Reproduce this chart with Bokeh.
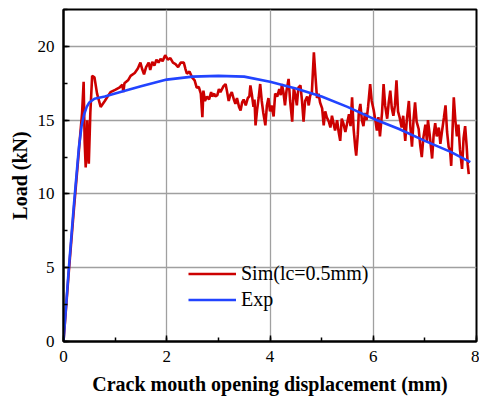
from bokeh.plotting import figure
from bokeh.models import Range1d, SingleIntervalTicker, Legend, LegendItem
from bokeh.embed import file_html
from bokeh.resources import INLINE

# Simulation (lc=0.5mm) : CMOD (mm) vs Load (kN)
sim_x = [0, 0.1, 0.2, 0.3, 0.36, 0.39, 0.41, 0.43, 0.445, 0.46, 0.475, 0.49, 0.52, 0.555, 0.6,
         0.65, 0.72, 0.8, 0.91, 1.0, 1.08, 1.14, 1.16, 1.18, 1.25, 1.30, 1.38, 1.44, 1.49, 1.52,
         1.56, 1.60, 1.65, 1.68, 1.72, 1.76, 1.80, 1.84, 1.88, 1.92, 1.97, 2.02, 2.07, 2.12, 2.17,
         2.22, 2.27, 2.33, 2.36, 2.39, 2.44, 2.49, 2.54, 2.58, 2.62, 2.66, 2.69, 2.71, 2.74, 2.78,
         2.82, 2.86, 2.88, 2.92, 2.94, 2.98, 3.01, 3.04, 3.10, 3.14, 3.17, 3.20, 3.23, 3.26, 3.30,
         3.33, 3.36, 3.40, 3.43, 3.46, 3.49, 3.53, 3.57, 3.60, 3.62, 3.65, 3.68, 3.70, 3.72, 3.75,
         3.78, 3.81, 3.84, 3.87, 3.91, 3.94, 3.97, 4.00, 4.03, 4.07, 4.10, 4.14, 4.18, 4.21, 4.23,
         4.26, 4.29, 4.32, 4.36, 4.39, 4.43, 4.46, 4.49, 4.52, 4.55, 4.59, 4.62, 4.65, 4.68, 4.72,
         4.75, 4.78, 4.81, 4.85, 4.88, 4.91, 4.94, 4.97, 5.01, 5.04, 5.07, 5.10, 5.14, 5.17, 5.20,
         5.23, 5.26, 5.30, 5.33, 5.36, 5.39, 5.42, 5.46, 5.50, 5.53, 5.56, 5.59, 5.62, 5.65, 5.67,
         5.70, 5.72, 5.75, 5.78, 5.81, 5.84, 5.87, 5.90, 5.94, 5.97, 6.01, 6.04, 6.07, 6.10, 6.13,
         6.17, 6.20, 6.23, 6.27, 6.30, 6.33, 6.36, 6.39, 6.42, 6.45, 6.48, 6.51, 6.55, 6.58, 6.62,
         6.65, 6.69, 6.72, 6.75, 6.78, 6.81, 6.84, 6.88, 6.91, 6.94, 6.97, 7.01, 7.04, 7.06, 7.10,
         7.14, 7.17, 7.20, 7.23, 7.27, 7.30, 7.33, 7.37, 7.40, 7.43, 7.46, 7.49, 7.51, 7.53, 7.56,
         7.59, 7.62, 7.65, 7.68, 7.72, 7.75, 7.78, 7.81, 7.83, 7.85]
sim_y = [0, 4.6, 8.9, 13.0, 15.5, 17.6, 13.5, 11.8, 13.0, 15.0, 12.8, 12.05, 15.5, 18.0, 17.9,
         16.8, 15.9, 16.3, 16.9, 17.05, 17.2, 17.4, 16.9, 17.5, 17.7, 18.0, 18.2, 18.5, 18.9, 18.5,
         18.1, 18.6, 18.9, 18.4, 18.95, 18.7, 19.1, 18.9, 19.15, 19.0, 19.4, 19.1, 19.2, 18.9, 18.8,
         18.6, 18.9, 18.9, 18.5, 18.15, 18.3, 17.9, 17.7, 17.2, 17.25, 16.8, 15.2, 17.0, 16.3, 16.6,
         16.4, 16.9, 16.6, 16.8, 16.6, 16.7, 17.1, 16.9, 17.3, 17.45, 16.9, 16.3, 16.7, 16.9, 16.4,
         16.1, 16.5, 15.9, 15.66, 16.2, 16.4, 16.0, 16.5, 16.6, 17.35, 16.7, 15.9, 16.4, 14.65, 15.7,
         16.5, 17.45, 16.3, 15.5, 14.65, 16.0, 16.5, 15.6, 16.0, 15.25, 16.8, 16.6, 17.1, 16.7, 17.45,
         16.9, 16.0, 17.0, 17.8, 16.3, 14.9, 17.2, 16.7, 16.0, 17.2, 17.35, 16.3, 14.9, 16.3, 16.6,
         16.0, 16.7, 16.8, 19.6, 18.0, 16.5, 16.8, 16.2, 15.8, 14.65, 15.6, 15.2, 14.9, 14.5, 15.3,
         14.8, 14.3, 15.0, 14.2, 13.6, 15.1, 14.8, 14.2, 14.9, 15.4, 14.6, 16.55, 14.4, 13.2, 12.6,
         14.0, 15.5, 16.1, 15.0, 14.6, 15.5, 15.0, 15.9, 17.45, 16.3, 15.66, 15.0, 14.3, 15.2, 13.9,
         15.5, 17.45, 16.0, 15.1, 16.2, 17.0, 15.8, 15.3, 16.0, 17.7, 15.6, 15.2, 14.5, 15.3, 13.6,
         15.0, 16.3, 14.5, 13.2, 15.0, 16.2, 14.9, 14.4, 13.3, 12.5, 13.8, 14.7, 13.6, 15.0, 13.8,
         12.4, 14.0, 14.8, 13.9, 14.5, 13.4, 14.2, 15.2, 16.0, 14.2, 13.2, 12.9, 11.9, 13.8, 16.55,
         15.0, 13.9, 14.7, 13.0, 11.7, 13.8, 14.6, 13.2, 12.0, 11.35]

# Experiment
exp_x = [0, 0.1, 0.2, 0.3, 0.35, 0.4, 0.45, 0.5, 0.6, 0.8, 1.0, 1.5, 2.0, 2.5, 3.0, 3.5,
         4.0, 4.5, 5.0, 5.5, 6.0, 6.5, 7.0, 7.5, 7.88]
exp_y = [0, 4.8, 9.2, 13.2, 14.6, 15.4, 15.9, 16.2, 16.45, 16.6, 16.8, 17.3, 17.75, 17.95, 18.0,
         17.95, 17.6, 17.15, 16.6, 15.9, 15.1, 14.4, 13.6, 12.85, 12.16]

labels = ["Sim(lc=0.5mm)", "Exp"]
x_label = "Crack mouth opening displacement (mm)"
y_label = "Load (kN)"

FONT = "Liberation Serif"

p = figure(frame_width=413, frame_height=332, output_backend="svg", toolbar_location=None,
           x_range=Range1d(0, 8), y_range=Range1d(0, 22.5),
           min_border_left=63, min_border_right=3, min_border_top=9, min_border_bottom=58)
p.background_fill_color = "white"
p.border_fill_color = "white"
p.outline_line_color = "black"
p.outline_line_width = 2
p.outline_line_alpha = 1

p.xaxis.ticker = SingleIntervalTicker(interval=2, num_minor_ticks=2)
p.yaxis.ticker = SingleIntervalTicker(interval=5, num_minor_ticks=2)

for ax in (p.xaxis, p.yaxis):
    ax.axis_line_color = "black"
    ax.axis_line_width = 2
    ax.major_tick_in = 6
    ax.major_tick_out = 0
    ax.minor_tick_in = 4
    ax.minor_tick_out = 0
    ax.major_tick_line_color = "black"
    ax.minor_tick_line_color = "black"
    ax.major_tick_line_width = 1.5
    ax.minor_tick_line_width = 1.5
    ax.major_label_text_font = FONT
    ax.major_label_text_font_size = "17px"
    ax.major_label_text_color = "black"
    ax.axis_label_text_font = FONT
    ax.axis_label_text_font_size = "20px"
    ax.axis_label_text_font_style = "bold"
    ax.axis_label_text_color = "black"

p.xaxis.axis_label = x_label
p.yaxis.axis_label = y_label
p.xaxis.major_label_standoff = 9
p.yaxis.major_label_standoff = 9
p.xaxis.axis_label_standoff = 8
p.yaxis.axis_label_standoff = 4

p.xgrid.grid_line_color = "#a0a0a0"
p.ygrid.grid_line_color = "#a0a0a0"
p.xgrid.grid_line_width = 1.3
p.ygrid.grid_line_width = 1.3

r_sim = p.line(sim_x, sim_y, line_color="#cc0000", line_width=2.6)
r_exp = p.line(exp_x, exp_y, line_color="#2244ff", line_width=2.6)

legend = Legend(items=[LegendItem(label=labels[0], renderers=[r_sim]),
                       LegendItem(label=labels[1], renderers=[r_exp])],
                location=(125, 30), orientation="vertical")
legend.padding = 0
legend.margin = 0
legend.spacing = 3
legend.border_line_alpha = 0
legend.background_fill_alpha = 0
legend.glyph_width = 48
legend.glyph_height = 23
legend.label_height = 23
legend.label_standoff = 5
legend.label_text_font = FONT
legend.label_text_font_size = "20px"
legend.label_text_color = "black"
p.add_layout(legend, "center")

open("out.html", "w").write(file_html(p, INLINE))
